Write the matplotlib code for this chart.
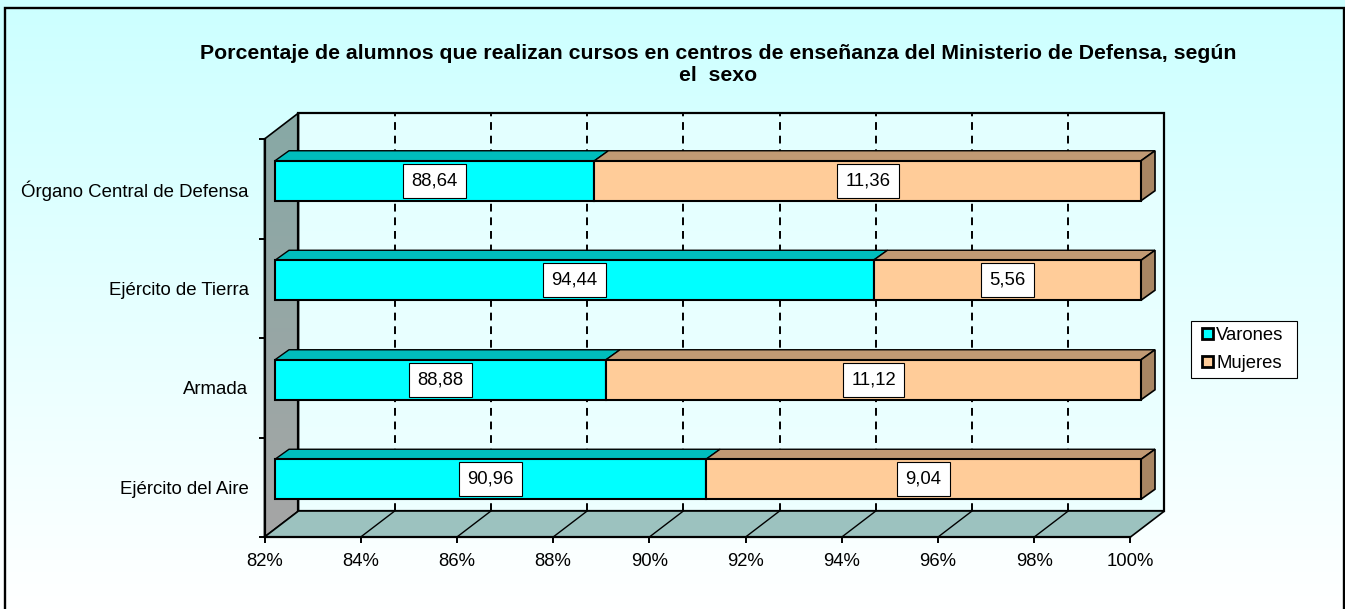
import matplotlib
matplotlib.use('Agg')
import matplotlib.pyplot as plt
from matplotlib.patches import Polygon, Patch, Rectangle
from matplotlib.legend_handler import HandlerPatch
import numpy as np

plt.rcParams['font.family'] = ['Liberation Sans', 'DejaVu Sans']

W, H = 1345, 609

title = 'Porcentaje de alumnos que realizan cursos en centros de enseñanza del Ministerio de Defensa, según\nel  sexo'
categorias = ['Ejército del Aire', 'Armada', 'Ejército de Tierra', 'Órgano Central de Defensa']
varones = [90.96, 88.88, 94.44, 88.64]
mujeres = [9.04, 11.12, 5.56, 11.36]
# las barras estan apiladas al 100%, el eje empieza en 82
xticks = [82, 84, 86, 88, 90, 92, 94, 96, 98, 100]
xlabels = ['82%', '84%', '86%', '88%', '90%', '92%', '94%', '96%', '98%', '100%']

C_VAR = '#00FFFF'
C_VAR_TOP = '#00BDBD'
C_MUJ = '#FFCC99'
C_MUJ_TOP = '#C19A74'
C_MUJ_SIDE = '#A88663'

fig = plt.figure(figsize=(W / 100, H / 100), dpi=100)

# fondo degradado
bg = fig.add_axes([0, 0, 1, 1])
grad = np.linspace(0, 1, 256).reshape(-1, 1)
grad = np.dstack([0.80 + 0.20 * grad, np.ones_like(grad), np.ones_like(grad)])
bg.imshow(grad, aspect='auto', extent=[0, W, H, 0])
bg.set_xlim(0, W)
bg.set_ylim(H, 0)
bg.axis('off')
bg.plot([5, 5, 1344, 1344], [609, 8, 8, 609], color='black', lw=1.7, solid_joinstyle='miter')

# el plano frontal del cubo
x0, x1, y0, y1 = 264.5, 1130.5, 139, 537
ax = fig.add_axes([x0 / W, 1 - y1 / H, (x1 - x0) / W, (y1 - y0) / H])
ax.patch.set_visible(False)
for s in ['top', 'right']:
    ax.spines[s].set_visible(False)
for s in ['left', 'bottom']:
    ax.spines[s].set_linewidth(1.6)

px = 18 / (x1 - x0)
py = 4 / (y1 - y0)


def P(x, y, dx=0, dy=0):
    # punto de datos desplazado dx,dy pixeles en profundidad
    return (x + dx * px, y + dy * py)


def poly(pts, fc, ec='black', lw=1.2, z=3):
    ax.add_patch(Polygon(pts, closed=True, fc=fc, ec=ec, lw=lw, zorder=z, clip_on=False,
                         joinstyle='miter'))


def pared(pts, arriba, abajo, lw):
    # pared con degradado vertical, recortada al poligono
    c = np.linspace(0, 1, 128).reshape(-1, 1, 1)
    img = (1 - c) * np.array(arriba) + c * np.array(abajo)
    xs = [p[0] for p in pts]
    ys = [p[1] for p in pts]
    im = ax.imshow(img, aspect='auto', extent=[min(xs), max(xs), min(ys), max(ys)], zorder=1)
    pg = Polygon(pts, closed=True, fc='none', ec='black', lw=lw, zorder=1.1, clip_on=False, joinstyle='miter')
    ax.add_patch(pg)
    im.set_clip_path(pg)
    im.set_clip_box(fig.bbox)


DX, DY = 34, 26
# pared del fondo, pared izquierda y suelo
pared([P(82, 0, DX, DY), P(100, 0, DX, DY), P(100, 4, DX, DY), P(82, 4, DX, DY)],
      (0.89, 1, 1), (0.93, 1, 1), 1.6)
pared([P(82, 0), P(82, 0, DX, DY), P(82, 4, DX, DY), P(82, 4)],
      (0.53, 0.66, 0.65), (0.65, 0.65, 0.65), 1.2)
poly([P(82, 0), P(100, 0), P(100, 0, DX, DY), P(82, 0, DX, DY)], '#9CC2BF', lw=1.2, z=1.2)

# rejilla
for t in xticks[1:-1]:
    ax.plot(*zip(P(t, 0), P(t, 0, DX, DY)), color='black', lw=1, zorder=2, clip_on=False)
    ax.plot(*zip(P(t, 0, DX, DY), P(t, 4, DX, DY)), color='black', lw=1.4, ls=(0, (4, 3)), zorder=2,
            clip_on=False)

# barras
BX, BY = 10.5, 8
TX, TY = 14, 10
alto = 40 * py
for i, (v, m) in enumerate(zip(varones, mujeres)):
    yc = i + 0.5
    ya, yb = yc - alto / 2, yc + alto / 2
    xe = v + m
    poly([P(82, yb, BX, BY), P(v, yb, BX, BY), P(v, yb, BX + TX, BY + TY), P(82, yb, BX + TX, BY + TY)],
         C_VAR_TOP, lw=1, z=3)
    poly([P(v, yb, BX, BY), P(xe, yb, BX, BY), P(xe, yb, BX + TX, BY + TY), P(v, yb, BX + TX, BY + TY)],
         C_MUJ_TOP, lw=1, z=3)
    poly([P(xe, ya, BX, BY), P(xe, yb, BX, BY), P(xe, yb, BX + TX, BY + TY), P(xe, ya, BX + TX, BY + TY)],
         C_MUJ_SIDE, lw=1.2, z=3)
    poly([P(82, ya, BX, BY), P(v, ya, BX, BY), P(v, yb, BX, BY), P(82, yb, BX, BY)], C_VAR, lw=1.5, z=4)
    poly([P(v, ya, BX, BY), P(xe, ya, BX, BY), P(xe, yb, BX, BY), P(v, yb, BX, BY)], C_MUJ, lw=1.5, z=4)
    caja = dict(boxstyle='square,pad=0.46', fc='white', ec='black', lw=0.8)
    for xm, val in [((82 + v) / 2, v), ((v + xe) / 2, m)]:
        ax.text(*P(xm, yc, BX, BY), f'{val:.2f}'.replace('.', ','), ha='center', va='center',
                fontsize=13.3, bbox=caja, zorder=6)

# ejes
ax.set_xlim(82, 100)
ax.set_ylim(0, 4)
ax.set_xticks(xticks)
ax.set_xticklabels(xlabels, fontsize=13.3)
ax.set_yticks([0, 1, 2, 3, 4])
ax.set_yticklabels([])
ax.set_yticks([i + 0.5 for i in range(4)], minor=True)
ax.set_yticklabels(categorias, minor=True, fontsize=13.4)
ax.tick_params(axis='y', which='minor', length=0, pad=11.5)
ax.tick_params(axis='both', which='major', length=4, width=1.4)
ax.tick_params(axis='x', pad=7.5)

fig.text(718 / W, 1 - 64.5 / H, title, ha='center', va='center', fontsize=15.3, fontweight='bold',
         linespacing=1.2)


def cuadrado(legend, orig_handle, xdescent, ydescent, width, height, fontsize):
    # cuadrado pegado a la derecha del hueco de la leyenda
    lado = 8.0
    return Rectangle((width - xdescent - lado, (height - lado) / 2 - ydescent), lado, lado)


handles = [Patch(fc=C_VAR, ec='black', lw=2, label='Varones'),
           Patch(fc=C_MUJ, ec='black', lw=2, label='Mujeres')]
leg = fig.legend(handles=handles, loc='center', bbox_to_anchor=(1190.5 / W, 1 - 378.5 / H, 106 / W, 58 / H),
                 mode='expand', fontsize=13.3, fancybox=False, edgecolor='black', framealpha=1,
                 handler_map={Patch: HandlerPatch(patch_func=cuadrado)},
                 handlelength=0.9, handleheight=0.7, handletextpad=0.2, labelspacing=0.6, borderpad=0.3,
                 borderaxespad=0)
leg.get_frame().set_linewidth(0.8)

fig.savefig('out.png', dpi=100)
